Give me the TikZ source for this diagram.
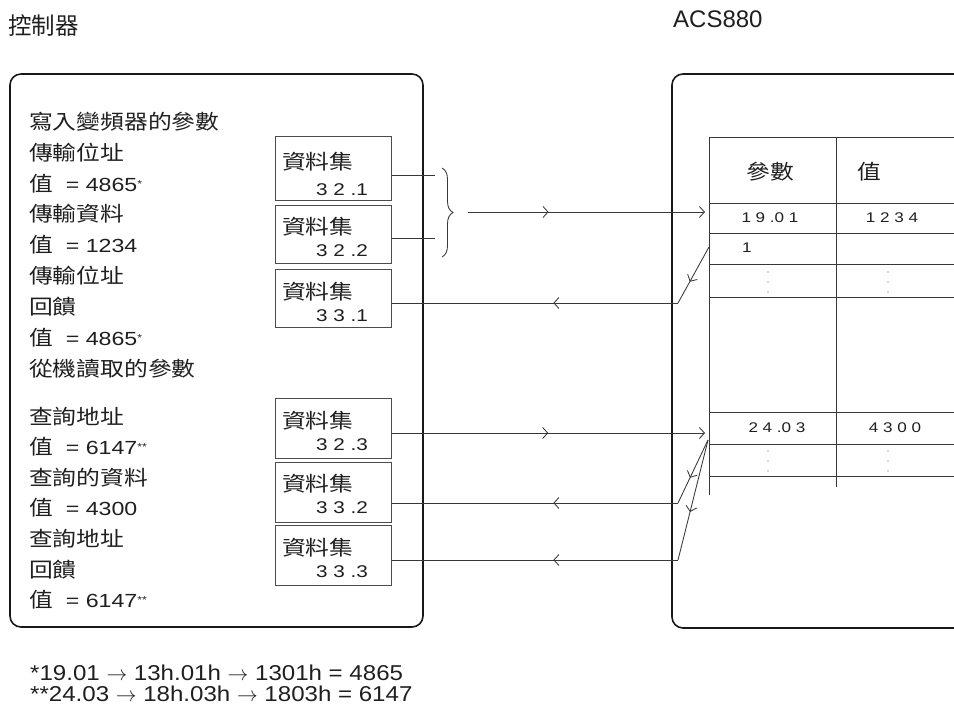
\documentclass[tikz,border=0pt]{standalone}
\usepackage{fontspec}
\setmainfont{Liberation Sans}
\newfontfamily\cjkfont{Noto Sans CJK TC}
\newfontfamily\cjkwide{Noto Sans CJK TC}[FakeStretch=1.16]
\newfontfamily\latwide{Liberation Sans}[FakeStretch=1.22]
\newfontfamily\latfoot{Liberation Sans}[FakeStretch=1.12]
\usetikzlibrary{arrows.meta,decorations.pathreplacing,decorations.markings}
\newcommand\zhw[1]{{\cjkwide\fontsize{20.5}{22}\selectfont #1}}
\newcommand\ltw[1]{{\latwide\fontsize{19}{22}\selectfont #1}}
\newcommand\astx[1]{\raisebox{4pt}{\latwide\fontsize{10}{10}\selectfont #1}}
\newcommand\dsnum[1]{{\latwide\fontsize{17}{18}\selectfont #1}}
\newcommand\tbnum[1]{{\latwide\fontsize{14}{16}\selectfont #1}}
\tikzset{
  lt/.style={anchor=west, inner sep=0pt, text=black!88},
  ct/.style={anchor=center, inner sep=0pt, text=black!88},
  frame/.style={draw=black!90, line width=1.6pt, rounded corners=11pt},
  dsbox/.style={draw=black!70, line width=1pt, minimum width=116pt, inner sep=0pt},
  conn/.style={draw=black!78, line width=0.85pt},
  tabline/.style={draw=black!78, line width=0.95pt},
  barb/.tip={Straight Barb[length=5pt,width=11pt,line width=0.85pt]},
  midarrow/.style={postaction={decorate,decoration={markings,
      mark=at position #1 with {\arrow{barb}}}}},
  dotc/.style={fill=black!70, draw=none, circle, inner sep=0pt, minimum size=1.3pt}
}
\begin{document}
\begin{tikzpicture}[x=1pt,y=-1pt]
\useasboundingbox (0,0) rectangle (954,714);
% top labels
\node[lt] (tctrl) at (8,26) {{\cjkfont\fontsize{23.5}{25}\selectfont 控制器}};
\node[lt] (tacs) at (673,19) {{\fontsize{24}{26}\selectfont ACS880}};
% frames
\node[frame, minimum width=413pt, minimum height=553pt, inner sep=0pt] (ctrl) at (216.5,350.5) {};
\draw[frame] (954,74) -- (672,74) -- (672,628) -- (954,628);
% left texts
\node[lt] (l1) at (29,122) {\zhw{寫入變頻器的參數}};
\node[lt] (l2) at (29,153) {\zhw{傳輸位址}};
\node[lt] (l3) at (29,184) {\zhw{值}\ltw{\ \ = 4865}\astx{*}};
\node[lt] (l4) at (29,214) {\zhw{傳輸資料}};
\node[lt] (l5) at (29,245) {\zhw{值}\ltw{\ \ = 1234}};
\node[lt] (l6) at (29,276) {\zhw{傳輸位址}};
\node[lt] (l7) at (29,307) {\zhw{回饋}};
\node[lt] (l8) at (29,338) {\zhw{值}\ltw{\ \ = 4865}\astx{*}};
\node[lt] (l9) at (29,369) {\zhw{從機讀取的參數}};
\node[lt] (m1) at (29,417) {\zhw{查詢地址}};
\node[lt] (m2) at (29,447) {\zhw{值}\ltw{\ \ = 6147}\astx{**}};
\node[lt] (m3) at (29,478) {\zhw{查詢的資料}};
\node[lt] (m4) at (29,508) {\zhw{值}\ltw{\ \ = 4300}};
\node[lt] (m5) at (29,539) {\zhw{查詢地址}};
\node[lt] (m6) at (29,570) {\zhw{回饋}};
\node[lt] (m7) at (29,600) {\zhw{值}\ltw{\ \ = 6147}\astx{**}};
% data set boxes
\node[dsbox, minimum height=64pt] (b321) at (333,169) {};
\node[dsbox, minimum height=58pt] (b322) at (333,235) {};
\node[dsbox, minimum height=58pt] (b331) at (333,299) {};
\node[dsbox, minimum height=60pt] (b323) at (333,428) {};
\node[dsbox, minimum height=60pt] (b332) at (333,492) {};
\node[dsbox, minimum height=60pt] (b333) at (333,555) {};
\node[lt] (d1) at (282,162) {\zhw{資料集}};
\node[ct] (n1) at (342,190) {\dsnum{3 2 .1}};
\node[lt] (d2) at (282,227) {\zhw{資料集}};
\node[ct] (n2) at (342,251) {\dsnum{3 2 .2}};
\node[lt] (d3) at (282,292) {\zhw{資料集}};
\node[ct] (n3) at (342,316) {\dsnum{3 3 .1}};
\node[lt] (d4) at (282,421) {\zhw{資料集}};
\node[ct] (n4) at (342,445) {\dsnum{3 2 .3}};
\node[lt] (d5) at (282,484) {\zhw{資料集}};
\node[ct] (n5) at (342,508) {\dsnum{3 3 .2}};
\node[lt] (d6) at (282,548) {\zhw{資料集}};
\node[ct] (n6) at (342,572) {\dsnum{3 3 .3}};
% table
\draw[tabline] (709,137) -- (709,495);
\draw[tabline] (836,137) -- (836,487);
\foreach \yy in {137,203,233,264,297,412,444,476} {
  \draw[tabline] (709,\yy) -- (954,\yy);
}
\node[ct] (hp) at (770,172) {\zhw{參數}};
\node[ct] (hv) at (869,172) {\zhw{值}};
\node[ct] (p1) at (770,218) {\tbnum{1 9 .0 1}};
\node[ct] (v1) at (892,218) {\tbnum{1 2 3 4}};
\node[lt] (p2) at (742,248) {\tbnum{1}};
\node[ct] (p3) at (777,428) {\tbnum{2 4 .0 3}};
\node[ct] (v3) at (895,428) {\tbnum{4 3 0 0}};
\foreach \xx in {768,888} {
  \foreach \yy in {272,282,292,451,461,471} {
    \node[dotc] at (\xx,\yy) {};
  }
}
% connector points
\coordinate (a1) at (b321.east |- 0,175);
\coordinate (a1e) at (435,175);
\coordinate (a2) at (b322.east |- 0,238);
\coordinate (a2e) at (435,238);
\coordinate (bra) at (442,168);
\coordinate (brb) at (442,257);
\coordinate (bs) at (468,212);
\coordinate (in1) at (705,212);
\coordinate (r1s) at (709,247);
\coordinate (r1k) at (678,303);
\coordinate (in2) at (705,433);
\coordinate (r2s) at (708,440);
\coordinate (r2k) at (678,503);
\coordinate (r3k) at (678,560);
% connectors
\draw[conn] (a1) -- (a1e);
\draw[conn] (a2) -- (a2e);
\draw[conn, decorate, decoration={brace, amplitude=11pt}] (bra) -- (brb);
\draw[conn, -{barb}, midarrow=0.34] (bs) -- (in1);
\draw[conn, midarrow=0.62] (r1s) -- (r1k);
\draw[conn, midarrow=0.435] (r1k) -- (b331.east |- r1k);
\draw[conn, -{barb}, midarrow=0.5] (b323.east |- in2) -- (in2);
\draw[conn, midarrow=0.6] (r2s) -- (r2k);
\draw[conn, midarrow=0.435] (r2k) -- (b332.east |- r2k);
\draw[conn, midarrow=0.6] (r2s) -- (r3k);
\draw[conn, midarrow=0.435] (r3k) -- (b333.east |- r3k);
% footnotes
\node[lt] (f1) at (30,673) {{\latfoot\fontsize{21.5}{24}\selectfont *19.01 $\rightarrow$ 13h.01h $\rightarrow$ 1301h = 4865}};
\node[lt] (f2) at (30,694) {{\latfoot\fontsize{21.5}{24}\selectfont **24.03 $\rightarrow$ 18h.03h $\rightarrow$ 1803h = 6147}};
\end{tikzpicture}
\end{document}
